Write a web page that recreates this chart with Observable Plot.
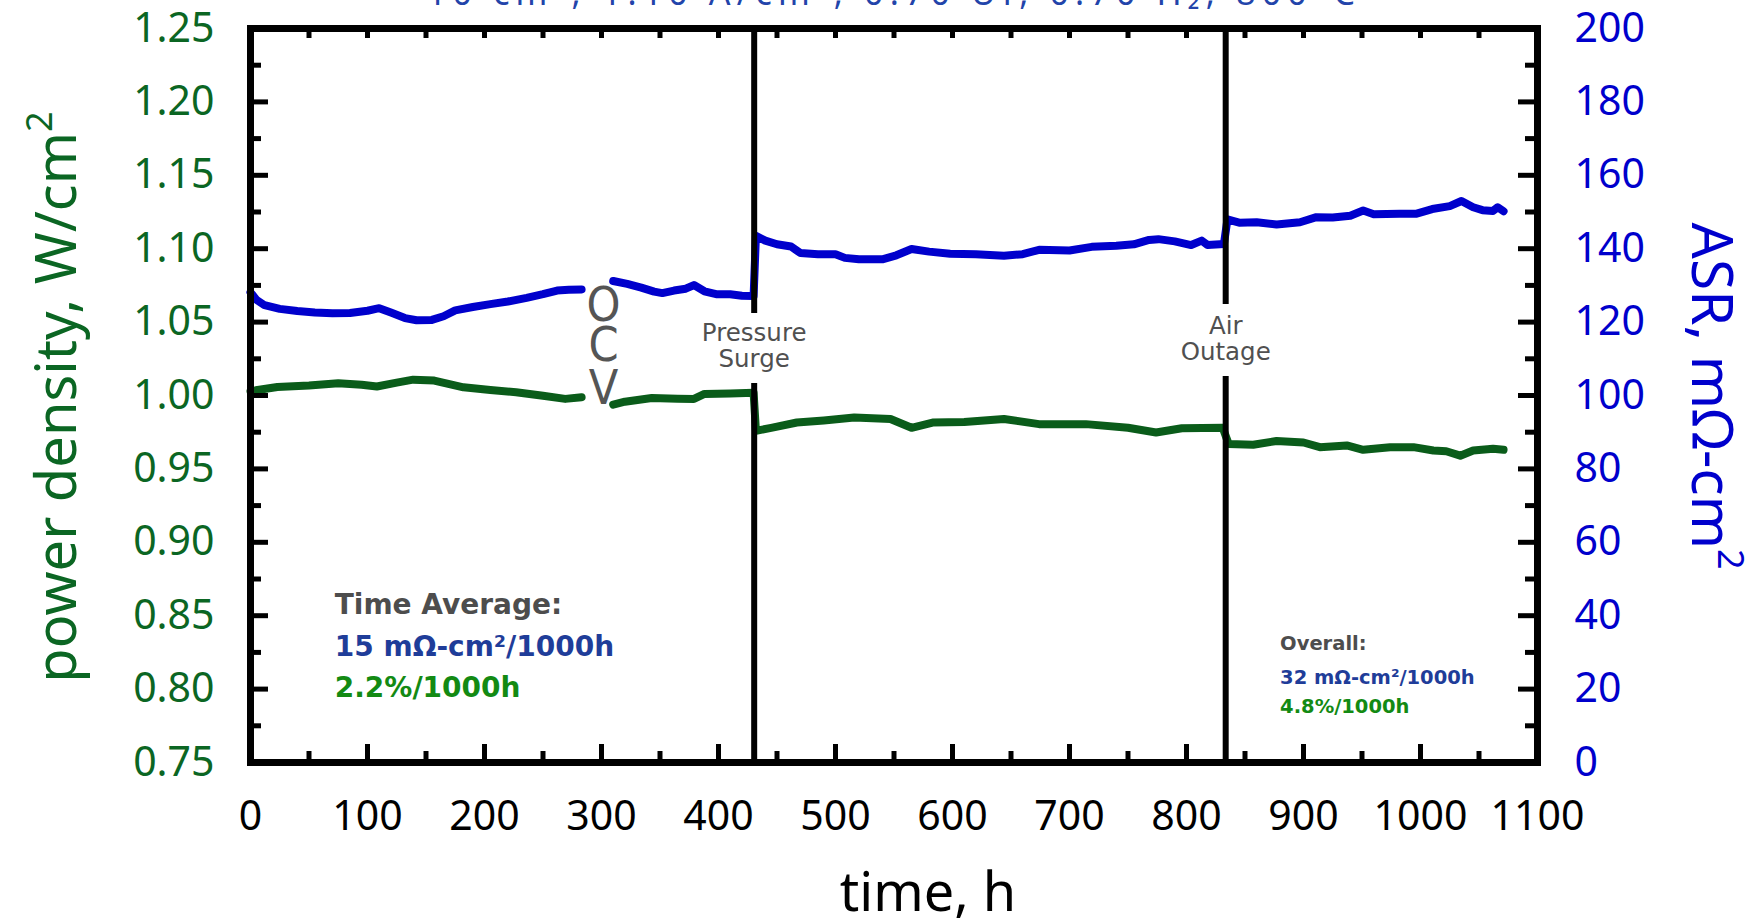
<!DOCTYPE html>
<html>
<head>
<meta charset="utf-8">
<script src="https://cdn.jsdelivr.net/npm/d3@7"></script>
<script src="https://cdn.jsdelivr.net/npm/@observablehq/plot@0.6"></script>
<style>
  html, body { margin: 0; padding: 0; background: #ffffff; }
  #chart { width: 1763px; height: 922px; overflow: hidden; position: relative; }
  #chart svg { display: block; }
</style>
</head>
<body>
<div id="chart"></div>
<script>
// ---------------- data ----------------
// ASR (mOhm-cm2) vs time (h); null = gap (OCV period)
const asrTime = [0, 5, 12, 25, 40, 55, 70, 85, 100, 110, 120, 132, 142, 155, 165, 175, 190, 205, 220, 236, 250, 262, 272, 283,
  296,
  310, 322, 334, 345, 352, 362, 372, 379, 388, 398, 410, 420, 430,
  432, 440, 450, 462, 470, 485, 500, 508, 520, 540, 552, 565, 580, 598, 620, 644, 660, 674, 700, 719, 740, 755, 768, 776, 790, 804, 813, 818, 832,
  835, 845, 860, 877, 897, 911, 925, 940, 951, 960, 982, 996, 1010, 1025, 1035, 1045, 1053, 1062, 1066, 1071];
const asrValue = [128.1, 126.1, 124.6, 123.6, 123.0, 122.6, 122.4, 122.5, 123.1, 123.8, 122.6, 121.1, 120.5, 120.6, 121.6, 123.2, 124.1, 124.9, 125.6, 126.6, 127.6, 128.6, 128.8, 128.9,
  null,
  131.2, 130.4, 129.4, 128.3, 127.9, 128.6, 129.1, 130.1, 128.4, 127.6, 127.6, 127.2, 127.1,
  143.5, 142.2, 141.2, 140.6, 138.8, 138.5, 138.5, 137.5, 137.1, 137.1, 138.2, 139.9, 139.2, 138.6, 138.5, 138.1, 138.5, 139.7, 139.5, 140.5, 140.8, 141.2, 142.4, 142.6, 142.0, 141.0, 142.2, 141.0, 141.3,
  148.0, 147.1, 147.2, 146.6, 147.2, 148.6, 148.5, 149.0, 150.4, 149.4, 149.5, 149.5, 150.8, 151.6, 153.0, 151.3, 150.5, 150.3, 151.3, 150.2];

// power density (W/cm2) vs time (h)
const pdTime = [0, 6, 23, 50, 75, 95, 108, 125, 139, 157, 170, 182, 205, 227, 250, 269, 283,
  296,
  310, 320, 343, 365, 379, 388, 410, 430,
  432, 445, 467, 490, 516, 547, 565, 583, 610, 644, 674, 714, 750, 774, 796, 831,
  836, 857, 877, 900, 914, 937, 951, 974, 994, 1011, 1022, 1034, 1045, 1062, 1071];
const pdValue = [1.0028, 1.0038, 1.0058, 1.0068, 1.0083, 1.0073, 1.0061, 1.0088, 1.0108, 1.0102, 1.0078, 1.0056, 1.0038, 1.0022, 0.9998, 0.9977, 0.9988,
  null,
  0.9938, 0.9958, 0.9983, 0.9978, 0.9977, 1.0011, 1.0013, 1.0018,
  0.9759, 0.978, 0.9816, 0.983, 0.985, 0.984, 0.978, 0.9816, 0.982, 0.984, 0.9805, 0.9805, 0.978, 0.9748, 0.9777, 0.978,
  0.967, 0.9665, 0.969, 0.968, 0.9648, 0.966, 0.963, 0.9648, 0.9648, 0.9625, 0.962, 0.959, 0.9625, 0.9637, 0.963];

// events (vertical lines) with a gap for their labels (in power-density units)
const eventTime = [430.5, 833.5];
const eventGapTop = [1.0559, 1.0620];
const eventGapBottom = [1.0082, 1.0130];
const eventLine1 = ["Pressure", "Air"];
const eventLine2 = ["Surge", "Outage"];
const eventLabelY1 = [1.0423, 1.0470];
const eventLabelY2 = [1.0245, 1.0293];

// OCV letters
const ocvLetters = ["O", "C", "V"];
const ocvTime = 301.7;
const ocvY = [1.0614, 1.0341, 1.0048];

// annotation blocks
const avgText = ["Time Average:", "15 mΩ-cm²/1000h", "2.2%/1000h"];
const avgY = [0.8575, 0.8285, 0.8010];
const avgTime = 72;
const overallText = ["Overall:", "32 mΩ-cm²/1000h", "4.8%/1000h"];
const overallY = [0.8309, 0.8080, 0.7880];
const overallTime = 880;
const annotColors = ["#4d4d4d", "#1f3d99", "#138a13"];

// ticks
const pdTicks = [0.75, 0.80, 0.85, 0.90, 0.95, 1.00, 1.05, 1.10, 1.15, 1.20, 1.25];
const pdMinorTicks = [0.775, 0.825, 0.875, 0.925, 0.975, 1.025, 1.075, 1.125, 1.175, 1.225];
const timeTicks = [0, 100, 200, 300, 400, 500, 600, 700, 800, 900, 1000, 1100];
const timeMajorInner = [100, 200, 300, 400, 500, 600, 700, 800, 900, 1000];
const timeMinor = [50, 150, 250, 350, 450, 550, 650, 750, 850, 950, 1050];
const topTicks = [50, 100, 150, 200, 250, 300, 350, 400, 450, 500, 550, 600, 650, 700, 750, 800, 850, 900, 950, 1000, 1050];

// ---------------- build ----------------
const asrToPd = a => 0.75 + a / 400;
const asrRows = asrTime.map((t, i) => ({t, y: asrValue[i] == null ? NaN : asrToPd(asrValue[i])}));
const pdRows = pdTime.map((t, i) => ({t, y: pdValue[i] == null ? NaN : pdValue[i]}));
const eventSegs = [];
eventTime.forEach((t, i) => {
  eventSegs.push({t, y1: 1.25, y2: eventGapTop[i]});
  eventSegs.push({t, y1: eventGapBottom[i], y2: 0.75});
});

const W = 1763, H = 922;
const mL = 250, mR = 226, mT = 28, mB = 160;
const pw = W - mL - mR, ph = H - mT - mB;

const GREEN = "#0a5c1a", BLUE = "#0000cc";
const GREEN_T = "#0b6623";

const textMarks = [];
avgText.forEach((s, i) => textMarks.push(Plot.text([s], {x: () => avgTime, y: () => avgY[i], text: d => d, fill: annotColors[i], textAnchor: "start", fontSize: 28, fontWeight: "bold", fontFamily: "DejaVu Sans"})));
overallText.forEach((s, i) => textMarks.push(Plot.text([s], {x: () => overallTime, y: () => overallY[i], text: d => d, fill: annotColors[i], textAnchor: "start", fontSize: 19.5, fontWeight: "bold", fontFamily: "DejaVu Sans"})));

const plot = Plot.plot({
  width: W, height: H,
  marginLeft: mL, marginRight: mR, marginTop: mT, marginBottom: mB,
  style: {fontFamily: "Noto Sans", background: "#ffffff", overflow: "visible"},
  x: {domain: [0, 1100]},
  y: {domain: [0.75, 1.25]},
  marks: [
    Plot.line(asrRows, {x: "t", y: "y", stroke: BLUE, strokeWidth: 8, strokeLinejoin: "round"}),
    Plot.line(pdRows, {x: "t", y: "y", stroke: GREEN, strokeWidth: 8, strokeLinejoin: "round"}),
    Plot.ruleX(eventSegs, {x: "t", y1: "y1", y2: "y2", stroke: "black", strokeWidth: 6}),
    // inward ticks
    Plot.ruleY(pdTicks, {stroke: "black", strokeWidth: 5, insetRight: pw - 18}),
    Plot.ruleY(pdMinorTicks, {stroke: "black", strokeWidth: 5, insetRight: pw - 11}),
    Plot.ruleY(pdTicks, {stroke: "black", strokeWidth: 5, insetLeft: pw - 19}),
    Plot.ruleY(pdMinorTicks, {stroke: "black", strokeWidth: 5, insetLeft: pw - 12}),
    Plot.ruleX(timeMajorInner, {stroke: "black", strokeWidth: 5, insetTop: ph - 18}),
    Plot.ruleX(timeMinor, {stroke: "black", strokeWidth: 5, insetTop: ph - 11}),
    Plot.ruleX(topTicks, {stroke: "black", strokeWidth: 5, insetBottom: ph - 10}),
    Plot.frame({stroke: "black", strokeWidth: 7}),
    // tick labels
    Plot.axisY({anchor: "left", ticks: pdTicks, tickFormat: d3.format(".2f"), tickSize: 0, tickPadding: 36, fontSize: 41, color: GREEN_T, label: null}),
    Plot.axisY({anchor: "right", ticks: pdTicks, tickFormat: d => String(Math.round((d - 0.75) * 400)), tickSize: 0, tickPadding: 37, fontSize: 41, color: BLUE, label: null}),
    Plot.axisX({anchor: "bottom", ticks: timeTicks, tickFormat: d => String(d), tickSize: 0, tickPadding: 38, fontSize: 41, color: "black", label: null}),
    // event labels
    Plot.text(eventLine1, {x: (d, i) => eventTime[i], y: (d, i) => eventLabelY1[i], text: d => d, fill: "#505050", fontSize: 24.5, fontFamily: "DejaVu Sans"}),
    Plot.text(eventLine2, {x: (d, i) => eventTime[i], y: (d, i) => eventLabelY2[i], text: d => d, fill: "#505050", fontSize: 24.5, fontFamily: "DejaVu Sans"}),
    // OCV
    Plot.text(ocvLetters, {x: () => ocvTime, y: (d, i) => ocvY[i], text: d => d, fill: "#555555", fontSize: 48, fontFamily: "Liberation Sans Narrow, DejaVu Sans Condensed, sans-serif"}),
    ...textMarks
  ]
});

document.getElementById("chart").append(plot);

// axis titles and the clipped header
const svg = d3.select(plot);
const lt = svg.append("text")
  .attr("transform", "translate(76,397) rotate(-90)")
  .attr("text-anchor", "middle")
  .attr("fill", GREEN_T)
  .attr("font-family", "Noto Sans")
  .attr("font-size", 56);
lt.append("tspan").text("power density, W/cm");
lt.append("tspan").attr("dy", -24).attr("font-size", 36).text("2");

const rt = svg.append("text")
  .attr("transform", "translate(1692,396) rotate(90)")
  .attr("text-anchor", "middle")
  .attr("fill", BLUE)
  .attr("font-family", "Noto Sans")
  .attr("font-size", 57);
rt.append("tspan").text("ASR, mΩ-cm");
rt.append("tspan").attr("dy", -26).attr("font-size", 36).text("2");

svg.append("text")
  .attr("x", 928).attr("y", 911)
  .attr("text-anchor", "middle")
  .attr("fill", "black")
  .attr("font-family", "Noto Sans")
  .attr("font-size", 54)
  .text("time, h");

svg.append("text")
  .attr("x", 891).attr("y", 5)
  .attr("text-anchor", "middle")
  .attr("fill", "#2244aa")
  .attr("font-family", "Noto Sans")
  .attr("font-size", 34)
  .attr("textLength", 928)
  .attr("lengthAdjust", "spacing")
  .text("10 cm², 1.10 A/cm², 0.70 Uf, 0.70 H₂, 800°C");
</script>
</body>
</html>
